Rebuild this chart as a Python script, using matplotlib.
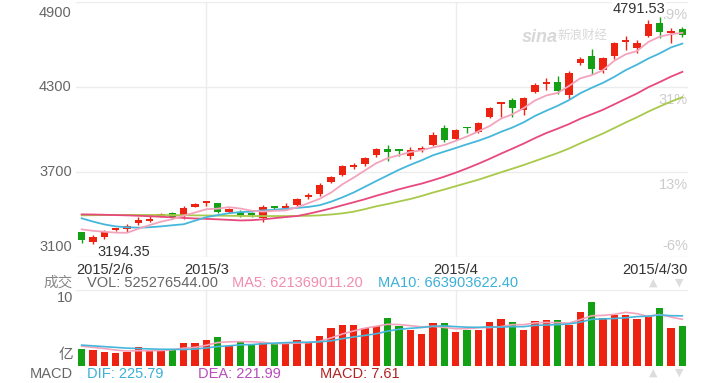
import numpy as np
import pandas as pd
import matplotlib
matplotlib.use("Agg")
import matplotlib.pyplot as plt

plt.rcParams['font.family'] = ['Liberation Sans', 'Noto Sans CJK SC']

# daily candles, 2015/2/6 - 2015/4/30
opens = [3274, 3208, 3239, 3292, 3295, 3338, 3356, 3390, 3413, 3394,
         3455, 3482, 3479, 3418, 3420, 3408, 3373, 3452, 3446, 3467,
         3521, 3545, 3632, 3679, 3738, 3756, 3820, 3862, 3858, 3813,
         3857, 3890, 4008, 3933, 4016, 3984, 4086, 4180, 4208, 4138,
         4267, 4323, 4338, 4243, 4467, 4519, 4420, 4516, 4618, 4573,
         4660, 4754, 4679, 4707]
closes = [3220, 3239, 3279, 3297, 3319, 3361, 3370, 3399, 3385, 3444,
          3472, 3486, 3420, 3437, 3396, 3394, 3455, 3448, 3451, 3507,
          3540, 3608, 3667, 3742, 3744, 3797, 3862, 3843, 3848, 3855,
          3862, 3961, 3926, 3996, 4008, 4044, 4150, 4185, 4150, 4225,
          4314, 4328, 4274, 4397, 4495, 4425, 4502, 4608, 4623, 4612,
          4745, 4690, 4696, 4667]
highs = [3280, 3255, 3290, 3305, 3333, 3384, 3391, 3409, 3415, 3458,
         3480, 3488, 3482, 3447, 3433, 3420, 3470, 3462, 3483, 3517,
         3549, 3620, 3674, 3749, 3761, 3804, 3869, 3890, 3860, 3876,
         3883, 3982, 4030, 4003, 4018, 4055, 4157, 4196, 4220, 4232,
         4325, 4361, 4380, 4411, 4514, 4566, 4514, 4620, 4660, 4633,
         4773, 4791.53, 4714, 4725]
lows = [3199, 3194.35, 3227, 3285, 3276, 3326, 3349, 3381, 3371, 3366,
        3450, 3462, 3408, 3408, 3380, 3385, 3346, 3433, 3430, 3460,
        3511, 3530, 3620, 3674, 3719, 3744, 3809, 3780, 3815, 3791,
        3841, 3883, 3912, 3926, 3975, 3975, 4079, 4090, 4090, 4103,
        4260, 4279, 4250, 4215, 4453, 4392, 4396, 4498, 4561, 4540,
        4652, 4646, 4613, 4653]
# volume in 亿
volumes = [2.3, 2.05, 1.9, 1.7, 1.9, 2.5, 2.05, 2.05, 2.15, 3.0,
           3.0, 3.45, 3.8, 2.65, 3.15, 2.9, 3.1, 2.85, 2.85, 3.45,
           3.1, 4.0, 5.05, 5.45, 5.45, 4.95, 5.25, 6.35, 5.25, 4.75,
           4.15, 5.6, 5.6, 4.45, 4.75, 4.75, 5.75, 6.2, 5.75, 4.75,
           5.9, 6.05, 6.05, 5.45, 7.05, 8.45, 6.3, 6.75, 6.75, 6.2,
           6.55, 7.65, 5.05, 5.25]

ma5_head = [3295, 3285, 3278, 3272]
ma10_head = [3373, 3350, 3330, 3316, 3310, 3307, 3310, 3316, 3324]
ma20_head = [3401, 3400, 3398, 3396, 3394, 3391, 3388, 3384, 3380, 3376,
             3372, 3369, 3366, 3362, 3358, 3360, 3366, 3374, 3382]
ma30_head = [3394, 3395, 3396, 3396, 3397, 3397, 3397, 3396, 3396, 3395,
             3394, 3393, 3392, 3391, 3390, 3389, 3389, 3389, 3389, 3390,
             3391, 3394, 3400, 3408, 3420, 3438, 3458, 3474, 3492]
vol_ma5_head = [2.6, 2.45, 2.3, 2.1]
vol_ma10_head = [2.75, 2.65, 2.55, 2.45, 2.35, 2.3, 2.25, 2.2, 2.2]

date_labels = ["2015/2/6", "2015/3", "2015/4", "2015/4/30"]
date_pos = [0, 11, 33, 53]
price_ticks = [4900, 4300, 3700, 3100]
pct_labels = ["49%", "31%", "13%", "-6%"]

RED = "#ee2211"
GREEN = "#14a014"
C_MA5 = "#f4a3bd"
C_MA10 = "#45b7dc"
C_MA20 = "#e8497c"
C_MA30 = "#a9c94b"
GRID = "#ececec"


def moving(values, n, head):
    s = pd.Series(values, dtype=float).rolling(n).mean().to_numpy()
    s[:len(head)] = head
    return s


o = np.array(opens, float)
c = np.array(closes, float)
x = np.arange(len(c))
cols = np.where(c >= o, RED, GREEN)

fig = plt.figure(figsize=(7.2, 3.83), dpi=100)
W, H = 720, 383
ax = fig.add_axes([76 / W, 1 - 257 / H, 612 / W, 255 / H])
axv = fig.add_axes([76 / W, 1 - 366 / H, 612 / W, 76 / H])

for a in (ax, axv):
    a.set_xlim(-0.5, 53.5)
    a.axis("off")
ax.set_ylim(3100, 4900)
axv.set_ylim(0, 10)

for p in price_ticks:
    ax.axhline(p, color=GRID, lw=1, zorder=0)
for xp in date_pos[1:3]:
    ax.axvline(xp, color=GRID, lw=1, zorder=0)
    axv.axvline(xp, color=GRID, lw=1, zorder=0)
axv.axhline(10, color=GRID, lw=1, zorder=0)

# candles
ax.vlines(x, lows, highs, color=cols, lw=1, zorder=2)
ax.bar(x, np.maximum(np.abs(c - o), 12), bottom=np.minimum(o, c), width=0.64,
       color=cols, linewidth=0, zorder=3)

ax.plot(x, moving(c, 30, ma30_head), color=C_MA30, lw=1.3, zorder=4)
ax.plot(x, moving(c, 20, ma20_head), color=C_MA20, lw=1.3, zorder=4)
ax.plot(x, moving(c, 10, ma10_head), color=C_MA10, lw=1.3, zorder=4)
ax.plot(x, moving(c, 5, ma5_head), color=C_MA5, lw=1.3, zorder=4)

# volume
v = np.array(volumes)
axv.bar(x, v, width=0.62, color=cols, linewidth=0, zorder=2)
axv.plot(x, moving(v, 5, vol_ma5_head), color=C_MA5, lw=1.2, zorder=3)
axv.plot(x, moving(v, 10, vol_ma10_head), color=C_MA10, lw=1.2, zorder=3)

fs = 10.5
# price labels on the left, percent labels on the right
lab_va = ["top", "center", "center", "bottom"]
pct_va = ["top", "top", "top", "bottom"]
pct_off = [-4, -4, -4, 3]
for p, va, pl, pva, off in zip(price_ticks, lab_va, pct_labels, pct_va, pct_off):
    ax.annotate(str(p), (0, p), xycoords=("axes fraction", "data"),
                xytext=(-3, -3 if va == "top" else (2 if va == "bottom" else 0)),
                textcoords="offset points", ha="right", va=va,
                fontsize=fs, color="#666666")
    ax.annotate(pl, (1, p), xycoords=("axes fraction", "data"),
                xytext=(0, off), textcoords="offset points", ha="right",
                va=pva, fontsize=fs, color="#cccccc", zorder=1)

# date labels
for lab, xp in zip(date_labels, date_pos):
    ha = "center"
    xx = xp
    if xp == date_pos[0]:
        ha, xx = "left", -0.5
    elif xp == date_pos[-1]:
        ha, xx = "right", 53.5
    ax.annotate(lab, (xx, 3100), xytext=(0, -4), textcoords="offset points",
                ha=ha, va="top", fontsize=fs, color="#333333")

# max / min labels
imax = int(np.argmax(highs))
imin = int(np.argmin(lows))
ax.annotate(f"{highs[imax]:.2f}", (imax, highs[imax]), xytext=(4, 1),
            textcoords="offset points", ha="right", va="bottom",
            fontsize=fs, color="#333333", zorder=6,
            bbox=dict(boxstyle="square,pad=0.05", fc="white", ec="none"))
ax.annotate(f"{lows[imin]:.2f}", (imin, lows[imin]), xytext=(3, -1),
            textcoords="offset points", ha="left", va="top",
            fontsize=fs, color="#333333", zorder=6)

# watermark
fig.text(522 / W, 1 - 37 / H, "sina", fontsize=13, fontweight="bold",
         fontstyle="italic", color="#d8d8d8", va="center", ha="left")
fig.text(557 / W, 1 - 36 / H, "新浪财经", fontsize=9, fontstyle="italic",
         color="#d8d8d8", va="center", ha="left")


# legend rows
def ftext(px, py, s, col, ha="left"):
    fig.text(px / W, 1 - py / H, s, fontsize=fs, color=col, ha=ha, va="center")


ftext(73, 283, "成交", "#888888", ha="right")
ftext(87, 283, "VOL: 525276544.00", "#666666")
ftext(232, 283, "MA5: 621369011.20", "#f28db0")
ftext(378, 283, "MA10: 663903622.40", "#3bb0d8")
ftext(73, 298, "10", "#666666", ha="right")
ftext(73, 355, "亿", "#666666", ha="right")
ftext(73, 374, "MACD", "#666666", ha="right")
ftext(87, 374, "DIF: 225.79", "#3bb0d8")
ftext(198, 374, "DEA: 221.99", "#b84cbb")
ftext(320, 374, "MACD: 7.61", "#b22222")
for py in (283, 373):
    fig.text(653 / W, 1 - py / H, "▲", fontsize=8, color="#dddddd",
             ha="center", va="center", family="DejaVu Sans")
    fig.text(679 / W, 1 - py / H, "▼", fontsize=8, color="#dddddd",
             ha="center", va="center", family="DejaVu Sans")

fig.savefig("out.png", dpi=100)
